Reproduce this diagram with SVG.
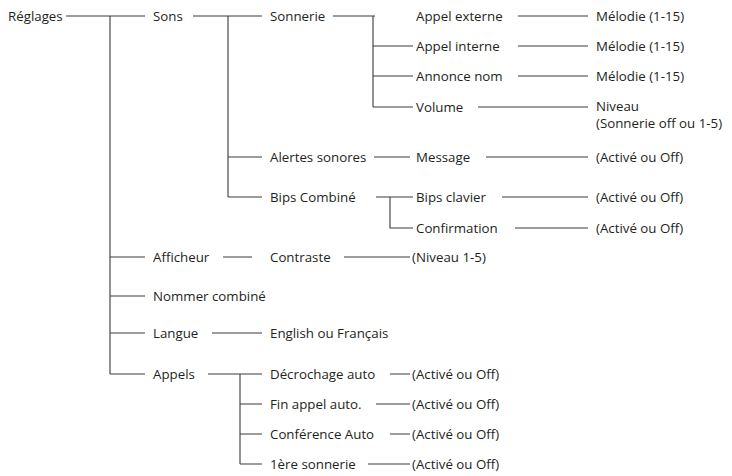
<svg xmlns="http://www.w3.org/2000/svg" width="732" height="476" viewBox="0 0 732 476">
<style>
text{font-family:"Open Sans","Noto Sans",sans-serif;font-size:13.3px;fill:#231f20;dominant-baseline:central}
#c path{stroke:#3a3a3a;stroke-width:1.1;fill:none}
</style>
<rect width="732" height="476" fill="#fff"/>
<g id="c"><path d="M66 16H145M110 16V374M110 257H145M110 296H145M110 333H145M110 374H145
M193 16H262M228 16V197M228 157H262M228 197H262
M333 16H375M373 16V107M373 46H413M373 76H413M373 107H413
M518 16H588M518 46H588M518 76H588M478 107H588
M374 157H410M486 157H588M376 197H413M390 197V228H413M502 197H588M515 228H588
M223 257H252M344 257H410M212 333H262
M208 374H262M240 374V464M240 404H262M240 434H262M240 464H262
M390 374H410M376 404H410M390 434H410M368 464H410"/></g>
<g id="n0"><text x="8" y="16">Réglages</text></g>
<g id="n1"><text x="153" y="16">Sons</text></g>
<g id="n2"><text x="270" y="16">Sonnerie</text></g>
<g id="n3"><text x="416" y="16">Appel externe</text><text x="596" y="16">Mélodie (1-15)</text></g>
<g id="n4"><text x="416" y="46">Appel interne</text><text x="596" y="46">Mélodie (1-15)</text></g>
<g id="n5"><text x="416" y="76">Annonce nom</text><text x="596" y="76">Mélodie (1-15)</text></g>
<g id="n6"><text x="416" y="107">Volume</text><text x="596" y="106">Niveau</text><text x="596" y="123">(Sonnerie off ou 1-5)</text></g>
<g id="n7"><text x="270" y="157">Alertes sonores</text><text x="416" y="157">Message</text><text x="596" y="157">(Activé ou Off)</text></g>
<g id="n8"><text x="270" y="197">Bips Combiné</text><text x="416" y="197">Bips clavier</text><text x="596" y="197">(Activé ou Off)</text></g>
<g id="n9"><text x="416" y="228">Confirmation</text><text x="596" y="228">(Activé ou Off)</text></g>
<g id="n10"><text x="153" y="257">Afficheur</text><text x="270" y="257">Contraste</text><text x="412" y="257">(Niveau 1-5)</text></g>
<g id="n11"><text x="153" y="296">Nommer combiné</text></g>
<g id="n12"><text x="153" y="333">Langue</text><text x="270" y="333">English ou Français</text></g>
<g id="n13"><text x="153" y="374">Appels</text></g>
<g id="n14"><text x="270" y="374">Décrochage auto</text><text x="412" y="374">(Activé ou Off)</text></g>
<g id="n15"><text x="270" y="404">Fin appel auto.</text><text x="412" y="404">(Activé ou Off)</text></g>
<g id="n16"><text x="270" y="434">Conférence Auto</text><text x="412" y="434">(Activé ou Off)</text></g>
<g id="n17"><text x="270" y="464">1ère sonnerie</text><text x="412" y="464">(Activé ou Off)</text></g>
</svg>
